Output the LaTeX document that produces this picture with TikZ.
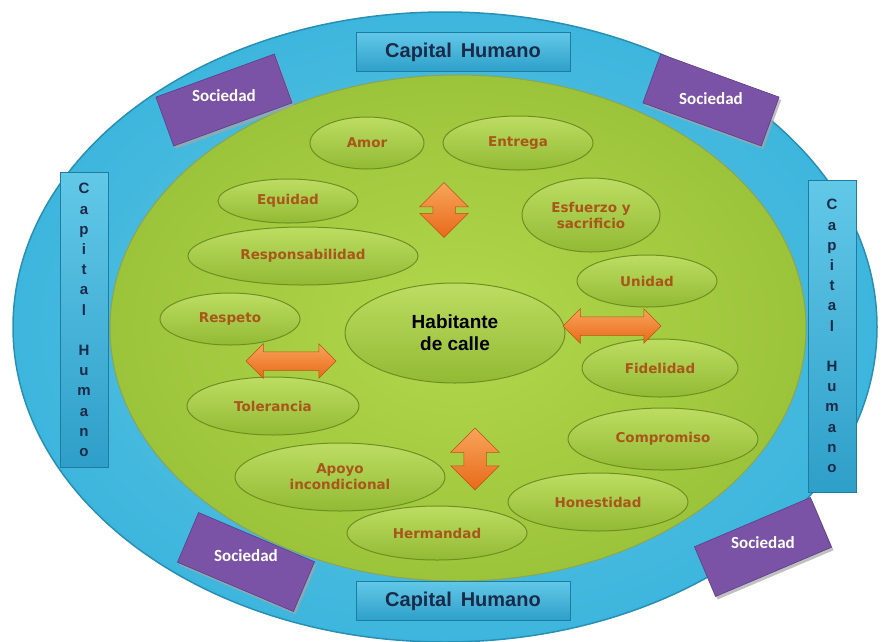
\documentclass[tikz,border=0pt]{standalone}
\usepackage{fontspec}
\setmainfont{Liberation Sans}
\newfontfamily\ovalfont{DejaVu Sans}
\newfontfamily\socfont{Carlito}
\usetikzlibrary{shapes.geometric,shapes.arrows,shadows}
\definecolor{ringblue}{HTML}{3DB6DD}
\definecolor{ringedge}{HTML}{2A8FB4}
\definecolor{fieldgreen}{HTML}{9CC43A}
\definecolor{fieldlight}{HTML}{B2D84C}
\definecolor{ovaltop}{HTML}{BDDD62}
\definecolor{ovalbot}{HTML}{92BA34}
\definecolor{ovaledge}{HTML}{6F8F22}
\definecolor{ovaltext}{HTML}{A9561A}
\definecolor{boxtop}{HTML}{62C8E8}
\definecolor{boxbot}{HTML}{2E9FC9}
\definecolor{boxedge}{HTML}{1E7BA2}
\definecolor{navy}{HTML}{1B2A48}
\definecolor{socpurple}{HTML}{7A52A6}
\definecolor{socdark}{HTML}{5E3C88}
\definecolor{arrowlight}{HTML}{F7A55A}
\definecolor{arrowdark}{HTML}{E9691A}
\tikzset{
  oval/.style={ellipse, draw=ovaledge, line width=1pt, top color=ovaltop, bottom color=ovalbot,
    inner sep=0pt, font=\ovalfont\bfseries\fontsize{13.5}{16}\selectfont, text=ovaltext, align=center},
  capbox/.style={rectangle, draw=boxedge, line width=1pt, top color=boxtop, bottom color=boxbot,
    inner sep=0pt, text=navy},
  dblarrow/.style={double arrow, inner xsep=0pt,
    top color=arrowlight, bottom color=arrowdark, draw=arrowdark!80!black, line width=0.5pt},
  socbox/.style={fill=socpurple, draw=socdark, line width=0.6pt,
    drop shadow={shadow xshift=2pt, shadow yshift=-3pt, fill=gray!70, opacity=0.7}},
  soctext/.style={font=\socfont\bfseries\fontsize{17}{19}\selectfont, text=white, inner sep=0pt}
}
\begin{document}
\begin{tikzpicture}[x=1pt,y=-1pt]
\useasboundingbox (0,0) rectangle (889,641);
\fill[white] (0,0) rectangle (889,641);

% outer ring and green field
\node[ellipse, draw=ringedge, line width=1.5pt, inner color=ringblue!80!white, outer color=ringblue, minimum width=864pt, minimum height=630pt, inner sep=0pt] (ring) at (445,327) {};
\node[ellipse, draw=ovaledge!80, line width=1pt, inner color=fieldlight, outer color=fieldgreen, minimum width=696pt, minimum height=506pt, inner sep=0pt] (field) at (458,328) {};

% ovals
\node[oval, minimum width=114pt, minimum height=52pt] (amor) at (367,143) {Amor};
\node[oval, minimum width=150pt, minimum height=54pt] (entrega) at (518,143) {Entrega};
\node[oval, minimum width=140pt, minimum height=44pt] (equidad) at (288,201) {Equidad};
\node[oval, minimum width=138pt, minimum height=74pt] (esfuerzo) at (591,215) {Esfuerzo y\\sacrificio};
\node[oval, minimum width=230pt, minimum height=58pt] (resp) at (303,256) {Responsabilidad};
\node[oval, minimum width=140pt, minimum height=52pt] (unidad) at (647,281) {Unidad};
\node[oval, minimum width=140pt, minimum height=52pt] (respeto) at (230,319) {Respeto};
\node[oval, minimum width=220pt, minimum height=100pt, font=\bfseries\fontsize{19}{22}\selectfont, text=black] (hab) at (455,333) {Habitante\\de calle};
\node[oval, minimum width=156pt, minimum height=58pt] (fidelidad) at (660,368) {Fidelidad};
\node[oval, minimum width=172pt, minimum height=58pt] (tolerancia) at (273,406) {Tolerancia};
\node[oval, minimum width=190pt, minimum height=62pt] (compromiso) at (663,439) {Compromiso};
\node[oval, minimum width=210pt, minimum height=68pt] (apoyo) at (340,477) {Apoyo\\incondicional};
\node[oval, minimum width=180pt, minimum height=58pt] (honestidad) at (598,502) {Honestidad};
\node[oval, minimum width=180pt, minimum height=54pt] (hermandad) at (437,533) {Hermandad};

% double arrows
\node[dblarrow, rotate=90, minimum height=55pt, inner ysep=11pt, double arrow head extend=13pt] (arrtop) at (444,210) {};
\node[dblarrow, rotate=90, minimum height=62pt, inner ysep=11pt, double arrow head extend=13pt] (arrbot) at (475,459) {};
\node[dblarrow, minimum height=98pt, inner ysep=9pt, double arrow head extend=8pt] (arrright) at (612,326) {};
\node[dblarrow, minimum height=90pt, inner ysep=9pt, double arrow head extend=8pt] (arrleft) at (291,361) {};

% Capital Humano boxes
\node[capbox, minimum width=214pt, minimum height=39pt, font=\bfseries\fontsize{20}{22}\selectfont] (chtop) at (463,52) {Capital\, Humano};
\node[capbox, minimum width=214pt, minimum height=39pt, font=\bfseries\fontsize{20}{22}\selectfont] (chbot) at (463,601) {Capital\, Humano};
\node[capbox, minimum width=48pt, minimum height=295pt, font=\bfseries\fontsize{15}{20.2}\selectfont, align=center] (chleft) at (84,320)
  {C\\a\\p\\i\\t\\a\\l\\[20.2pt]H\\u\\m\\a\\n\\o};
\node[capbox, minimum width=48pt, minimum height=312pt, font=\bfseries\fontsize{15}{20.2}\selectfont, align=center] (chright) at (832,336)
  {C\\a\\p\\i\\t\\a\\l\\[20.2pt]H\\u\\m\\a\\n\\o};

% Sociedad boxes
\begin{scope}[shift={(224,100)}, rotate=20]
  \path[socbox] (-63,-26) rectangle (63,26);
\end{scope}
\node[soctext] (soc1) at (224,96) {Sociedad};
\begin{scope}[shift={(711,100)}, rotate=-20]
  \path[socbox] (-63,-26) rectangle (63,26);
\end{scope}
\node[soctext] (soc2) at (711,99) {Sociedad};
\begin{scope}[shift={(246,562)}, rotate=-23]
  \path[socbox] (-63,-27) rectangle (63,27);
\end{scope}
\node[soctext] (soc3) at (246,556) {Sociedad};
\begin{scope}[shift={(763,547)}, rotate=23]
  \path[socbox] (-63,-27) rectangle (63,27);
\end{scope}
\node[soctext] (soc4) at (763,543) {Sociedad};
\end{tikzpicture}
\end{document}
